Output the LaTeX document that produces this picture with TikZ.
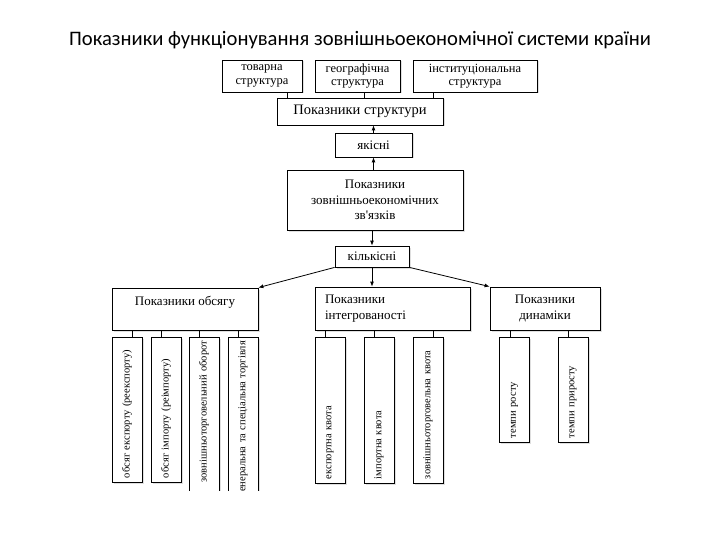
\documentclass[tikz,border=0pt]{standalone}
\usepackage{fontspec}
\setmainfont{Liberation Serif}
\newfontfamily\titlefont{Carlito}
\usetikzlibrary{arrows.meta, shadows, positioning}

\begin{document}
\begin{tikzpicture}[x=1pt, y=-1pt, line width=0.8pt,
                    box/.style= {draw,
                      fill=white,
                      drop shadow={shadow xshift=1.5pt, shadow yshift=-1.5pt, fill=black!25},
                      align=center,
                      inner sep=3pt,
                      font=\fontsize{13}{15.5}\selectfont},
                    small/.style= {font=\fontsize{12.5}{13.5}\selectfont},
                    vbox/.style= {box,
                      rotate=90,
                      minimum height=30pt,
                      inner xsep=4pt,
                      font=\fontsize{10.5}{12}\selectfont},
                    link/.style= {-{Latex[length=5pt, width=4pt]}}]

  \useasboundingbox (0,0) rectangle (720,540);

  \node (title) at (360,40) {\titlefont\fontsize{20.6}{24}\selectfont Показники функціонування зовнішньоекономічної системи країни};

  % top row
  \node[box, small, minimum width=80pt, minimum height=32pt] (tov) at (262,76) {товарна\\структура};
  \node[box, small, minimum width=85pt, minimum height=32pt] (geo) at (357.5,76) {географічна\\структура};
  \node[box, small, minimum width=124pt, minimum height=32pt] (inst) at (475,76) {інституціональна\\структура};
  \node[box, font=\fontsize{14.5}{16}\selectfont, minimum width=166pt, minimum height=27pt] (ps) at (360,111.5) {Показники структури};
  \node[box, minimum width=77pt, minimum height=24pt] (yak) at (373.5,145) {якісні};
  \node[box, minimum width=176pt, minimum height=60pt] (zez) at (375,200) {Показники\\зовнішньоекономічних\\зв\textquotesingle язків};
  \node[box, minimum width=74pt, minimum height=21pt] (kil) at (372,256.5) {кількісні};

  % groups
  \node[box, minimum width=146pt, minimum height=42pt] (obs) at (185,309) {Показники обсягу\\\mbox{}};
  \node[box, minimum width=155pt, minimum height=43pt, text width=135pt, inner xsep=10pt, align=left] (integ) at (392.5,308.5) {Показники\\інтегрованості};
  \node[box, minimum width=110pt, minimum height=43pt] (dyn) at (545,308.5) {Показники\\динаміки};

  % vertical boxes
  \node[vbox, minimum width=145pt, text width=137pt, align=left] (b1) at (127,409.5) {обсяг експорту (реекспорту)};
  \node[vbox, minimum width=145pt, text width=137pt, align=left] (b2) at (166,409.5) {обсяг імпорту (реімпорту)};
  \begin{scope}
    \clip (0,0) rectangle (720,490);
    \node[vbox, minimum width=170pt, text width=162pt, align=right] (b3) at (204,422) {зовнішньоторговельний оборот};
    \node[vbox, minimum width=170pt, text width=162pt, align=right] (b4) at (243,422) {генеральна та спеціальна торгівля};
  \end{scope}
  \node[vbox, minimum width=146pt, text width=138pt, align=left] (m1) at (330,410) {експортна квота};
  \node[vbox, minimum width=146pt, text width=138pt, align=left] (m2) at (379,410) {імпортна квота};
  \node[vbox, minimum width=146pt, text width=138pt, align=left] (m3) at (428,410) {зовнішньоторговельна квота};
  \node[vbox, minimum width=105pt, text width=97pt, align=left] (r1) at (514.5,389.5) {темпи росту};
  \node[vbox, minimum width=105pt, text width=97pt, align=left] (r2) at (573,389.5) {темпи приросту};

  % connectors
  \draw ([xshift=25pt]tov.south) -- ([xshift=25pt]tov.south |- ps.north);
  \draw ([xshift=6.5pt]geo.south) -- ([xshift=6.5pt]geo.south |- ps.north);
  \draw ([xshift=-42pt]inst.south) -- ([xshift=-42pt]inst.south |- ps.north);
  \draw[link] (yak.north) -- (yak.north |- ps.south);
  \draw[link] (yak.south |- zez.north) -- (yak.south);
  \draw[link] (kil.north |- zez.south) -- (kil.north);
  \draw[link] (kil.south west) -- (obs.north east);
  \draw[link] (kil.south) -- (kil.south |- integ.north);
  \draw[link] (kil.south east) -- (dyn.north west);

  \foreach \b/\s/\c in {b1/5/obs, b2/-5/obs, b3/-5/obs, b4/-5/obs,
                        m1/-5/integ, m2/-5/integ, m3/5/integ,
                        r1/-4.5/dyn, r2/-5/dyn}
    \draw ([xshift=\s pt]\b.east) -- ([xshift=\s pt]\b.east |- \c.south);
\end{tikzpicture}
\end{document}
